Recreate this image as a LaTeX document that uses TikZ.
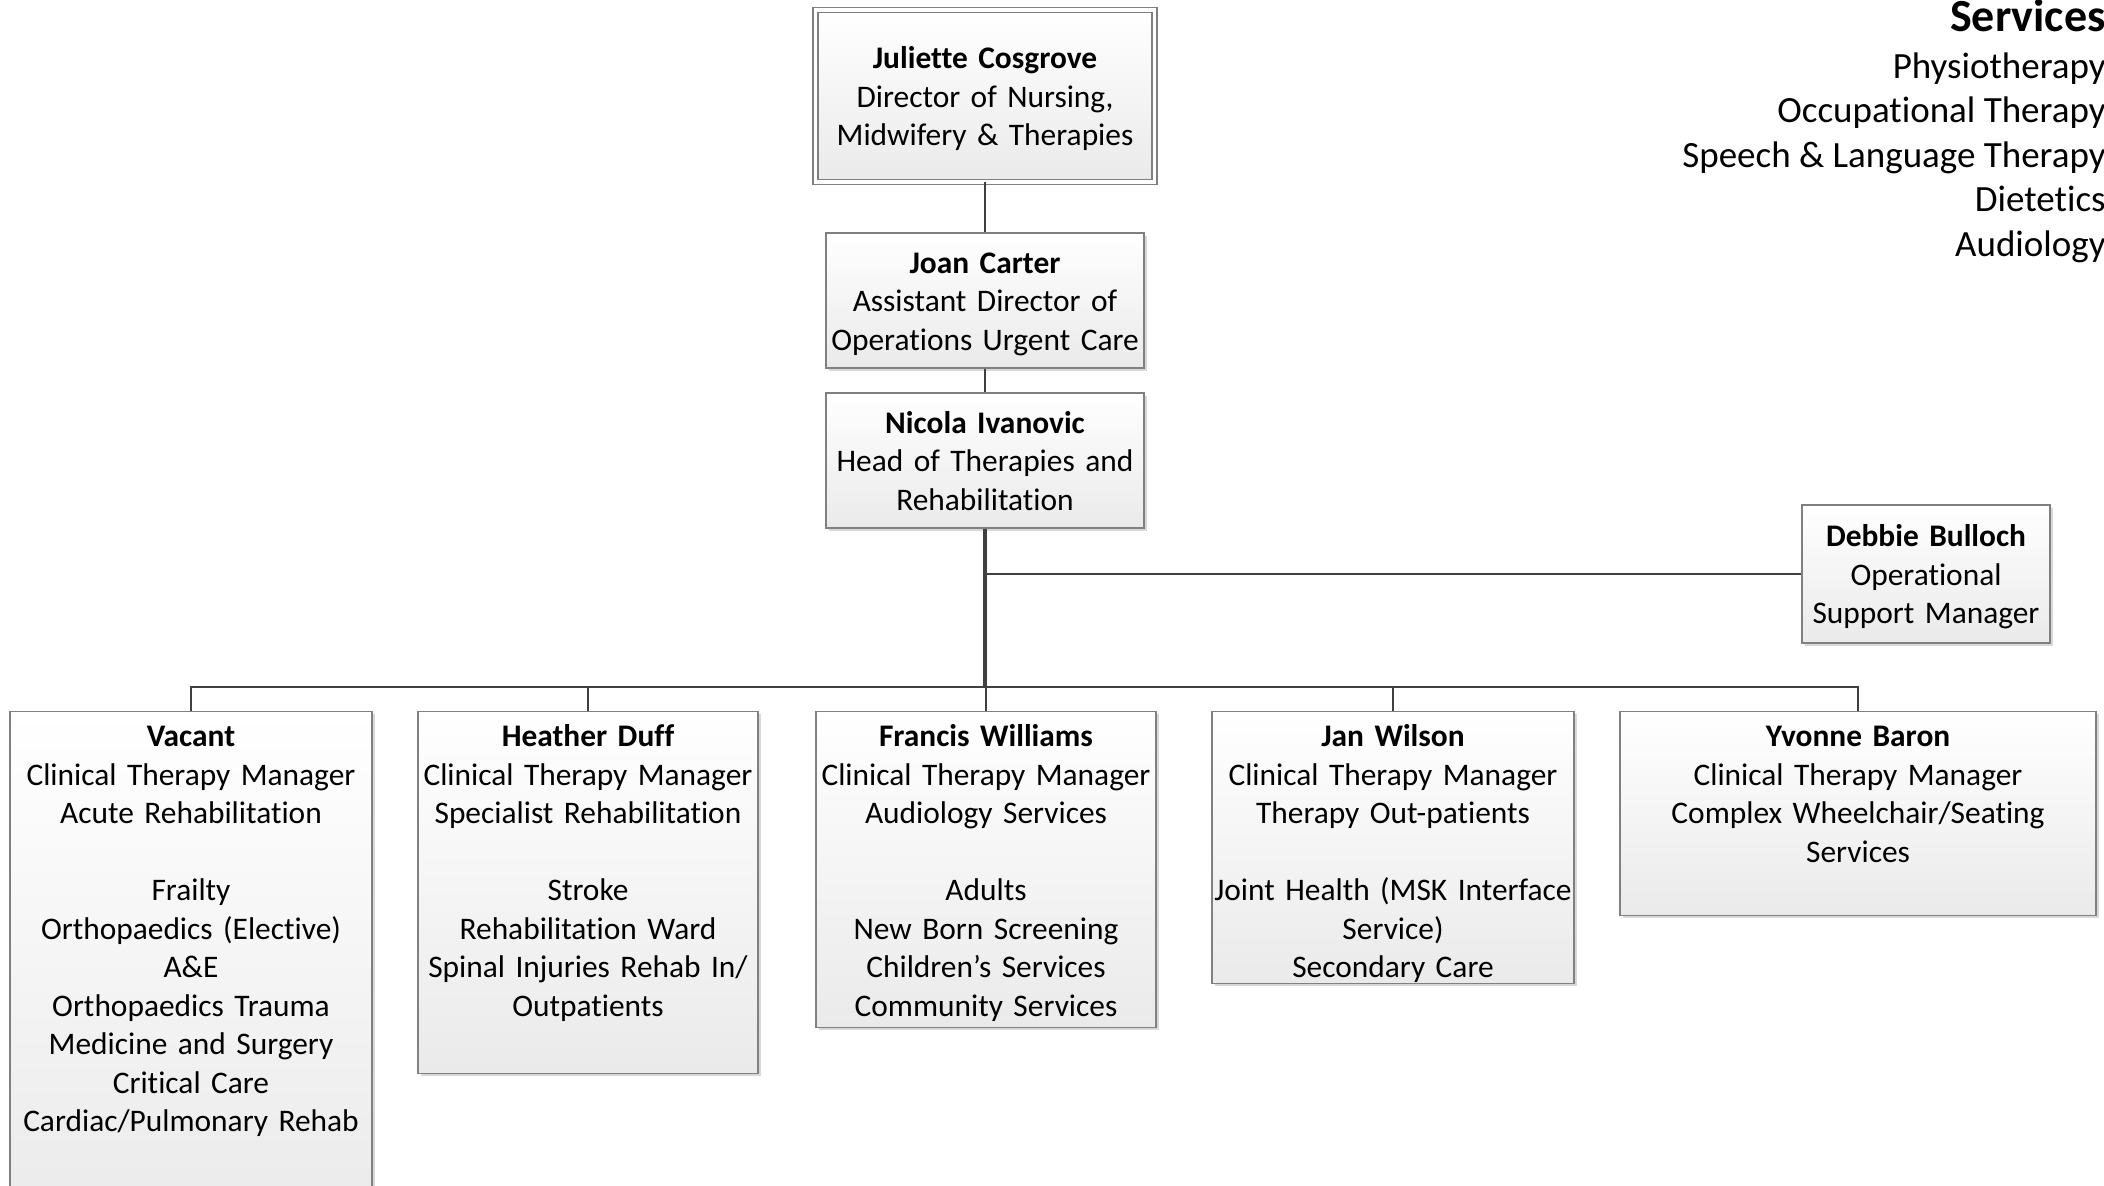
\documentclass[tikz,border=0pt]{standalone}
\usepackage{fontspec}
\setmainfont{Carlito}[Ligatures={NoCommon,NoContextual}]
\usepackage{tikz}
\usepackage{xcolor}
\usetikzlibrary{shadows}

\definecolor{boxline}{HTML}{808080}
\definecolor{boxfill}{HTML}{EAEAEA}
\definecolor{connector}{HTML}{404040}

\begin{document}
\begin{tikzpicture}[x=0.5pt,y=-0.5pt]
\tikzset{every node/.style={font=\fontsize{15.7}{19.25}\selectfont}}
\tikzset{post/.style={draw=boxline,line width=0.7pt,top color=white,bottom color=boxfill,align=center,drop shadow={shadow xshift=1.3pt,shadow yshift=-1.3pt,fill=black!30,opacity=0.5}}}
\tikzset{head/.style={post,inner xsep=0pt,inner ysep=0pt,text height=13.7pt,text depth=40.8pt}}
\tikzset{manager/.style={post,anchor=north,inner sep=0pt,text height=17.5pt}}
\tikzset{link/.style={draw=connector,line width=1.15pt}}

\useasboundingbox (0,0) rectangle (2104,1185);

\node[head,double=white,double distance=1.9pt,line width=0.6pt,text width=169.5pt,minimum height=85.75pt] (jc) at (985,96) {\textbf{Juliette Cosgrove}\\Director of Nursing,\\Midwifery \& Therapies};
\node[head,text width=159pt,minimum height=67.5pt] (jo) at (985,300.5) {\textbf{Joan Carter}\\Assistant Director of\\Operations Urgent Care};
\node[head,text width=159pt,minimum height=67.5pt] (ni) at (985,460.5) {\textbf{Nicola Ivanovic}\\Head of Therapies and\\Rehabilitation};
\node[head,text width=124pt,minimum height=69pt] (db) at (1926,574) {\textbf{Debbie Bulloch}\\Operational\\Support Manager};

\node[manager,text width=181pt,text depth=240pt] (va) at (191,711) {\textbf{Vacant}\\Clinical Therapy Manager\\Acute Rehabilitation\\[19.25pt]Frailty\\Orthopaedics (Elective)\\A\&E\\Orthopaedics Trauma\\Medicine and Surgery\\Critical Care\\Cardiac/Pulmonary Rehab};
\node[manager,text width=170pt,text depth=163.5pt] (hd) at (588,711) {\textbf{Heather Duff}\\Clinical Therapy Manager\\Specialist Rehabilitation\\[19.25pt]Stroke\\Rehabilitation Ward\\Spinal Injuries Rehab In/\\Outpatients};
\node[manager,text width=170pt,text depth=140.5pt] (fw) at (986,711) {\textbf{Francis Williams}\\Clinical Therapy Manager\\Audiology Services\\[19.25pt]Adults\\New Born Screening\\Children’s Services\\Community Services};
\node[manager,text width=181pt,text depth=118.5pt] (jw) at (1393,711) {\textbf{Jan Wilson}\\Clinical Therapy Manager\\Therapy Out-patients\\[19.25pt]Joint Health (MSK Interface\\Service)\\Secondary Care};
\node[manager,text width=238pt,text depth=84.5pt] (yb) at (1858,711) {\textbf{Yvonne Baron}\\Clinical Therapy Manager\\Complex Wheelchair/Seating\\Services};

% services list, top right
\node[anchor=base east,inner sep=0pt,font=\fontsize{23}{27}\selectfont\bfseries] (svc) at (2106,31) {Services};
\node[anchor=north east,inner sep=0pt,align=right,font=\fontsize{18.5}{22.25}\selectfont] (svclist) at (2106,52) {Physiotherapy\\Occupational Therapy\\Speech \& Language Therapy\\Dietetics\\Audiology};

\draw[link] (jc) -- (jo);
\draw[link] (jo) -- (ni);
\draw[link] (ni.south) |- (db.west);
\coordinate (bus) at (985,687);
\draw[link,line width=1.7pt] (ni.south) -- (bus);
\foreach \n in {va,hd,fw,jw,yb}
  \draw[link] (bus) -| (\n.north);

\end{tikzpicture}
\end{document}
